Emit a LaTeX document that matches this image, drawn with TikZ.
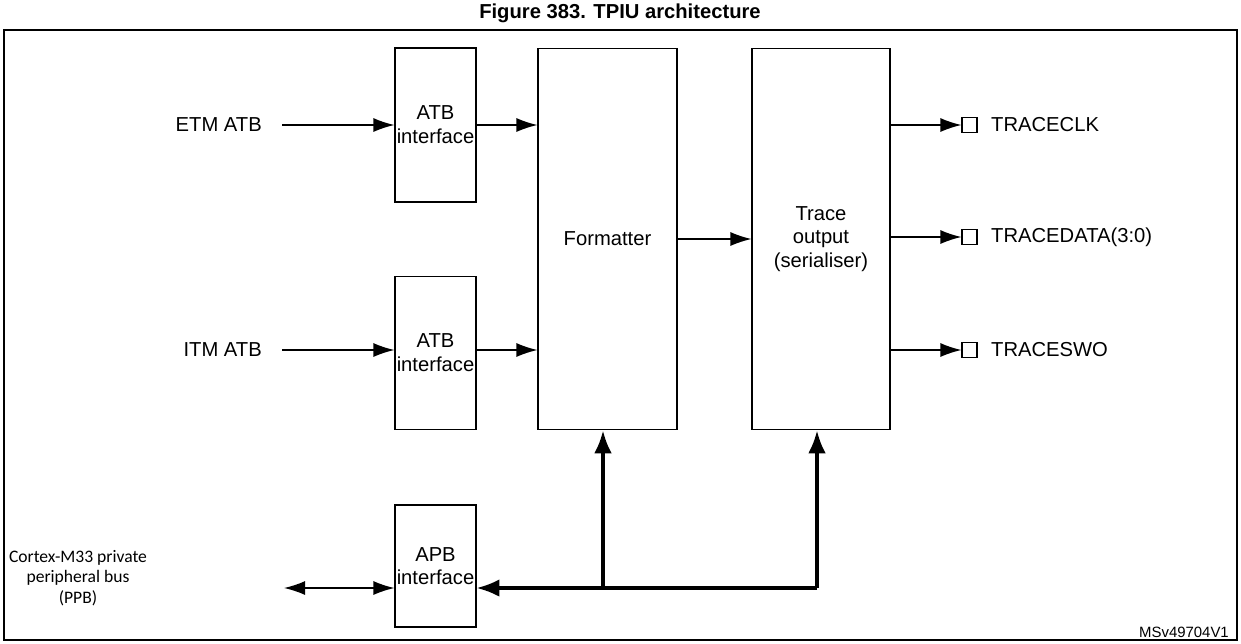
\documentclass[tikz,border=0pt]{standalone}
\usepackage{fontspec}
\setmainfont{Liberation Sans}
\newfontfamily\calib{Carlito}
\usetikzlibrary{arrows.meta}
\begin{document}
\begin{tikzpicture}[x=0.02cm,y=-0.02cm,
	    blk/.style={draw,line width=0.6pt,align=center,inner sep=1pt,font=\fontsize{11.5}{13.5}\selectfont},
	    sig/.style={line width=0.8pt,-{Latex[length=12pt,width=8pt]}},
	    bus/.style={line width=1.8pt,-{Latex[length=13pt,width=10pt]}},
	    lbl/.style={font=\fontsize{11.5}{13.5}\selectfont},
	    pin/.style={draw,line width=0.6pt,minimum size=0.3cm,inner sep=0pt}]
	    \useasboundingbox (0,0) rectangle (1241,643);
	    \node[font=\bfseries\fontsize{11.5}{13}\selectfont] (title) at (620,13) {Figure 383. TPIU architecture};
	    \draw[line width=0.6pt] (4,30) rectangle (1237,640);
	    % blocks
	    \node[blk,minimum width=1.54cm,minimum height=3.08cm] (atbA) at (435.5,125) {ATB\\interface};
	    \node[blk,minimum width=1.54cm,minimum height=3.06cm] (atbB) at (435.5,353) {ATB\\interface};
	    \node[blk,minimum width=2.78cm,minimum height=7.64cm] (fmt) at (607.5,239) {Formatter};
	    \node[blk,minimum width=2.76cm,minimum height=7.64cm] (trc) at (821,239) {Trace\\output\\(serialiser)};
	    \node[blk,minimum width=1.54cm,minimum height=2.44cm] (apb) at (435.5,566) {APB\\interface};
	    % inputs
	    \node[lbl,anchor=east] (etm) at (268,125) {ETM ATB};
	    \node[lbl,anchor=east] (itm) at (268,350) {ITM ATB};
	    \node[font=\calib\fontsize{10}{11.5}\selectfont,align=center] (ppb) at (78,578) {Cortex-M33 private\\peripheral bus\\(PPB)};
	    \draw[sig] (etm.east) ++(14,0) coordinate (e0) -- (e0 -| atbA.west);
	    \draw[sig] (itm.east) ++(14,0) coordinate (i0) -- (i0 -| atbB.west);
	    \draw[sig] (atbA.east) -- (atbA.east -| fmt.west);
	    \draw[sig] (atbB.east |- itm) -- (itm -| fmt.west);
	    \draw[sig] (fmt.east |- trc) -- (trc.west);
	    \draw[line width=0.8pt,{Latex[length=12pt,width=8pt]}-{Latex[length=12pt,width=8pt]}] (284,588) coordinate (p0) -- (p0 -| apb.west);
	    % outputs
	    \foreach \y/\t/\n in {125/TRACECLK/clk,237/TRACEDATA(3:0)/dat,350/TRACESWO/swo}{
	      \node[pin] (\n) at (969.5,\y) {};
	      \node[lbl,anchor=west] (\n l) at (985,\y) {\t};
	      \draw[sig] (trc.east |- \n) -- (\n.west);
	    }
	    % bus
	    \coordinate (b1) at (603,588);
	    \coordinate (b2) at (817,588);
	    \draw[bus] (b2) -- (apb.east |- b2);
	    \draw[bus] (b1) -- (b1 |- fmt.south);
	    \draw[bus] (b2) -- (b2 |- trc.south);
	    \node[font=\fontsize{8.5}{10}\selectfont,anchor=east] (id) at (1235,632) {MSv49704V1};
	\end{tikzpicture}
\end{document}
